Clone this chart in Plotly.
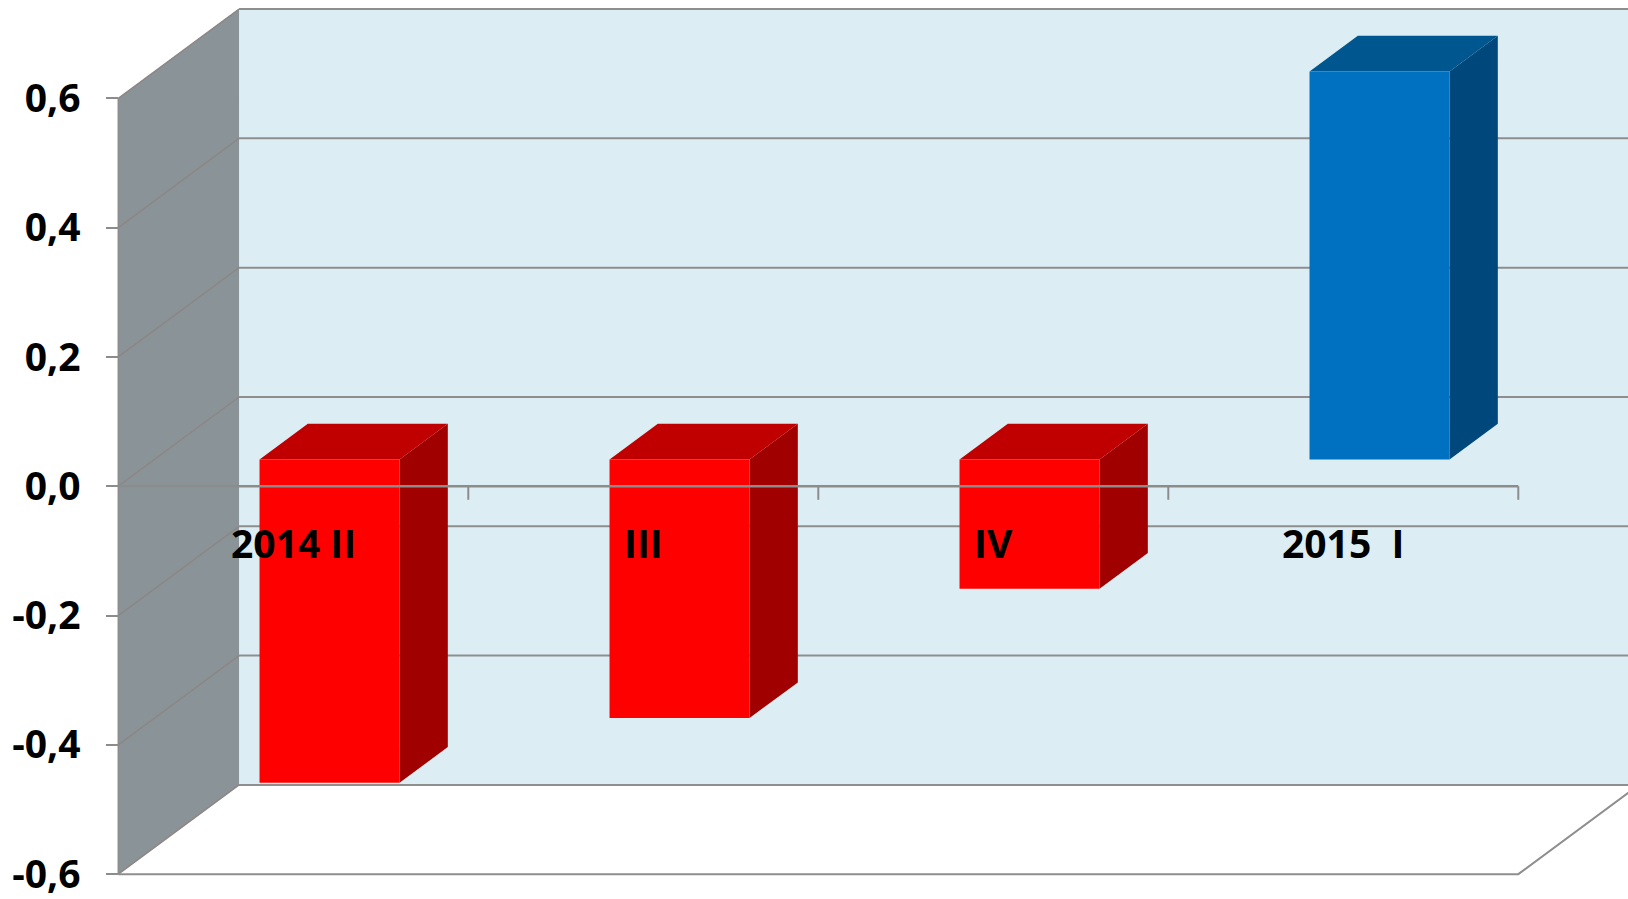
import plotly.graph_objects as go

# Quarterly values
categories = ["2014 II", "III", "IV", "2015  I"]
values = [-0.5, -0.4, -0.2, 0.6]

# Value axis
tick_vals = [0.6, 0.4, 0.2, 0.0, -0.2, -0.4, -0.6]
tick_text = ["0,6", "0,4", "0,2", "0,0", "-0,2", "-0,4", "-0,6"]

# Face colours (front, top, side) for falling and rising quarters
neg_colors = ("#FF0000", "#C00000", "#A00000")
pos_colors = ("#0070C0", "#00568F", "#00487C")

# Oblique projection of the depth axis (in data units)
DX = 0.345
DY = 0.138
Y_MIN, Y_MAX = -0.6, 0.6
N = len(categories)
BAR_W = 0.4
D0, D1 = 0.3, 0.7          # bar depth span (0 = front, 1 = back)

GRID = "#8E8E8E"
WALL_BACK = "#DCEEF4"
WALL_LEFT = "#8A9498"
FONT = dict(family="Open Sans", size=39, color="#000000", weight="bold")


def proj(x, y, d):
    return x + d * DX, y + d * DY


def poly(points, color, line_color=None, width=0):
    xs = [p[0] for p in points] + [points[0][0]]
    ys = [p[1] for p in points] + [points[0][1]]
    return go.Scatter(
        x=xs, y=ys, mode="lines", fill="toself", fillcolor=color,
        line=dict(color=line_color or color, width=width),
        hoverinfo="skip", showlegend=False,
    )


def seg(points, color=GRID, width=2):
    return go.Scatter(
        x=[p[0] for p in points], y=[p[1] for p in points], mode="lines",
        line=dict(color=color, width=width),
        hoverinfo="skip", showlegend=False,
    )


fig = go.Figure()

# Back wall
fig.add_trace(poly([proj(0, Y_MIN, 1), proj(N + 1, Y_MIN, 1),
                    proj(N + 1, Y_MAX, 1), proj(0, Y_MAX, 1)], WALL_BACK))
# Left side wall
fig.add_trace(poly([proj(0, Y_MIN, 0), proj(0, Y_MIN, 1),
                    proj(0, Y_MAX, 1), proj(0, Y_MAX, 0)], WALL_LEFT))
# Floor
fig.add_trace(poly([proj(0, Y_MIN, 0), proj(N, Y_MIN, 0),
                    proj(N, Y_MIN, 1), proj(0, Y_MIN, 1)], "#FFFFFF"))

# Gridlines on the back wall and their continuation across the side wall
for v in tick_vals:
    fig.add_trace(seg([proj(0, v, 1), proj(N + 1, v, 1)]))
    fig.add_trace(seg([proj(0, v, 0), proj(0, v, 1)], color="#8C8684", width=1.5))

# Floor outline
fig.add_trace(seg([proj(0, Y_MIN, 0), proj(N, Y_MIN, 0), proj(N, Y_MIN, 1)]))
# Front edge of the side wall
fig.add_trace(seg([proj(0, Y_MIN, 0), proj(0, Y_MAX, 0)], color="#8C8C8C", width=1.5))

# Bars
for i, v in enumerate(values):
    front, top, side = pos_colors if v >= 0 else neg_colors
    x0 = i + 0.5 - BAR_W / 2
    x1 = i + 0.5 + BAR_W / 2
    lo, hi = min(v, 0.0), max(v, 0.0)
    # right side face
    fig.add_trace(poly([proj(x1, lo, D0), proj(x1, lo, D1),
                        proj(x1, hi, D1), proj(x1, hi, D0)], side))
    # top face
    fig.add_trace(poly([proj(x0, hi, D0), proj(x1, hi, D0),
                        proj(x1, hi, D1), proj(x0, hi, D1)], top))
    # front face
    fig.add_trace(poly([proj(x0, lo, D0), proj(x1, lo, D0),
                        proj(x1, hi, D0), proj(x0, hi, D0)], front))

# Category axis at zero with tick marks between categories
fig.add_trace(seg([(0, 0), (N, 0)], color="#8C8C8C", width=2.5))
tx, ty = [], []
for k in range(1, N + 1):
    tx += [k, k, None]
    ty += [0, -0.021, None]
fig.add_trace(go.Scatter(x=tx, y=ty, mode="lines",
                         line=dict(color="#8C8C8C", width=2),
                         hoverinfo="skip", showlegend=False))

# Category labels
for i, name in enumerate(categories):
    fig.add_annotation(x=i + 0.5, y=0, text=name, showarrow=False,
                       xanchor="center", yanchor="middle", yshift=-56,
                       font=FONT)

W, H = 1628, 899
X_PX0, PX_PER_X = 118.3, 350.0
Y_PX0, PX_PER_Y = 487.3, 648.0

fig.update_layout(
    width=W, height=H,
    margin=dict(l=0, r=0, t=0, b=0),
    paper_bgcolor="#FFFFFF", plot_bgcolor="#FFFFFF",
    showlegend=False,
    xaxis=dict(range=[-X_PX0 / PX_PER_X, (W - X_PX0) / PX_PER_X],
               visible=False, fixedrange=True),
    yaxis=dict(range=[-(H - Y_PX0) / PX_PER_Y, Y_PX0 / PX_PER_Y],
               anchor="free", position=X_PX0 / W,
               tickvals=tick_vals, ticktext=tick_text,
               ticks="outside", ticklen=12, tickwidth=2, tickcolor="#8C8C8C",
               ticklabelstandoff=18, ticklabeloverflow="allow",
               tickfont=FONT,
               showgrid=False, zeroline=False, showline=False, fixedrange=True),
)

fig.write_html("out.html")
